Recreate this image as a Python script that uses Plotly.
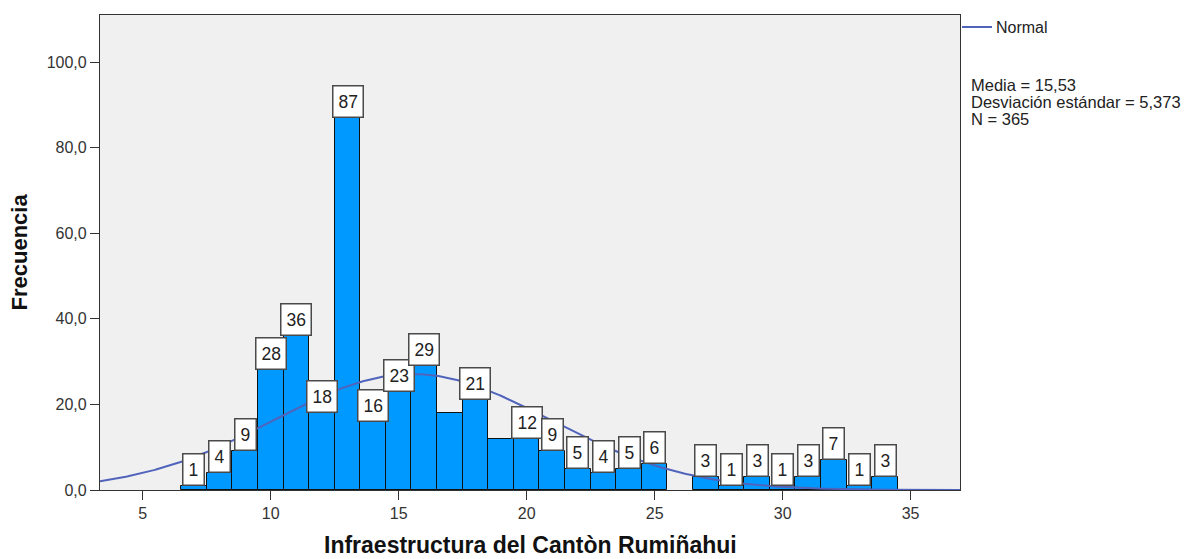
import numpy as np
import plotly.graph_objects as go

# ---- data ----
bin_centers = [7, 8, 9, 10, 11, 12, 13, 14, 15, 16, 17, 18, 19, 20, 21, 22, 23, 24, 25,
               27, 28, 29, 30, 31, 32, 33, 34]
frequencies = [1, 4, 9, 28, 36, 18, 87, 16, 23, 29, 18, 21, 12, 12, 9, 5, 4, 5, 6,
               3, 1, 3, 1, 3, 7, 1, 3]
# labels as shown (two bars have no visible label in the reference)
bar_labels = ["1", "4", "9", "28", "36", "18", "87", "16", "23", "29", "", "21", "", "12",
              "9", "5", "4", "5", "6", "3", "1", "3", "1", "3", "7", "1", "3"]

mean_val = 15.53
sd_val = 5.373
n_val = 365
bin_width = 1.0

x_ticks = [5, 10, 15, 20, 25, 30, 35]
y_ticks = [0, 20, 40, 60, 80, 100]
y_tick_text = ["0,0", "20,0", "40,0", "60,0", "80,0", "100,0"]

stats_lines = ["Media = 15,53", "Desviación estándar = 5,373", "N = 365"]
legend_label = "Normal"

x_range = [3.33, 36.93]
y_range = [0, 111]

FONT = "Liberation Sans, Arial, sans-serif"
CURVE_COLOR = "#5064BC"

# page body has an 8px default margin; size the figure to fill the window
OFF = 8
W, H = 1192 - OFF, 559 - OFF
PL, PR, PT, PB = 100, 960, 15, 490  # plot box in window pixels
pw, ph = PR - PL, PB - PT


def px_x(p):
    return (p - PL) / pw


def px_y(p):
    return 1 - (p - PT) / ph


# normal curve implied by the reported mean, sd and N
xc = np.linspace(x_range[0], x_range[1], 400)
yc = n_val * bin_width / (sd_val * np.sqrt(2 * np.pi)) * np.exp(-0.5 * ((xc - mean_val) / sd_val) ** 2)

fig = go.Figure()
fig.add_trace(go.Bar(
    x=bin_centers, y=frequencies, width=bin_width,
    marker=dict(color="#0099FF", line=dict(color="#111111", width=1)),
    showlegend=False, hoverinfo="x+y",
))
fig.add_trace(go.Scatter(
    x=xc, y=yc, mode="lines", name=legend_label, showlegend=False,
    line=dict(color=CURVE_COLOR, width=2),
))

annotations = []
for xv, yv, lab in zip(bin_centers, frequencies, bar_labels):
    if not lab:
        continue
    annotations.append(dict(
        x=xv, y=yv, xref="x", yref="y", text=lab, showarrow=False,
        xanchor="center", yanchor="bottom",
        font=dict(family=FONT, size=17.5, color="#222222"),
        bgcolor="white", bordercolor="#4a4a4a", borderwidth=1.5, borderpad=5,
    ))

# stats text block
for i, line in enumerate(stats_lines):
    annotations.append(dict(
        x=px_x(969), y=px_y(85 + 17 * i), xref="paper", yref="paper",
        text=line, showarrow=False, xanchor="left", yanchor="middle", align="left",
        font=dict(family=FONT, size=16.5, color="#222222"),
    ))

# legend (key line + label)
annotations.append(dict(
    x=px_x(994), y=px_y(27), xref="paper", yref="paper",
    text=legend_label, showarrow=False, xanchor="left", yanchor="middle",
    font=dict(family=FONT, size=16, color="#222222"),
))
shapes = [dict(type="line", xref="paper", yref="paper",
               x0=px_x(962), x1=px_x(992), y0=px_y(27), y1=px_y(27),
               line=dict(color=CURVE_COLOR, width=2))]

# axis titles
annotations.append(dict(
    x=0.5, y=px_y(545), xref="paper", yref="paper",
    text="<b>Infraestructura del Cantòn Rumiñahui</b>", showarrow=False,
    xanchor="center", yanchor="middle", font=dict(family=FONT, size=23, color="#111111"),
))
annotations.append(dict(
    x=px_x(19), y=0.5, xref="paper", yref="paper",
    text="<b>Frecuencia</b>", showarrow=False, textangle=-90,
    xanchor="center", yanchor="middle", font=dict(family=FONT, size=22, color="#111111"),
))

fig.update_layout(
    width=W, height=H,
    margin=dict(l=PL - OFF, r=W - (PR - OFF), t=PT - OFF, b=H - (PB - OFF)),
    paper_bgcolor="white", plot_bgcolor="#F0F0F0",
    bargap=0,
    font=dict(family=FONT, size=16, color="#333333"),
    annotations=annotations,
    shapes=shapes,
    showlegend=False,
)
fig.update_xaxes(
    range=x_range, tickvals=x_ticks, ticktext=[str(v) for v in x_ticks],
    showgrid=False, zeroline=False, showline=True, mirror=True,
    linecolor="#333333", linewidth=1.2, ticks="outside", ticklen=9, tickcolor="#333333",
    tickfont=dict(family=FONT, size=16, color="#333333"),
)
fig.update_yaxes(
    range=y_range, tickvals=y_ticks, ticktext=y_tick_text,
    showgrid=False, zeroline=False, showline=True, mirror=True,
    linecolor="#333333", linewidth=1.2, ticks="outside", ticklen=9, tickcolor="#333333",
    tickfont=dict(family=FONT, size=16, color="#333333"),
)

fig.write_html("out.html")
